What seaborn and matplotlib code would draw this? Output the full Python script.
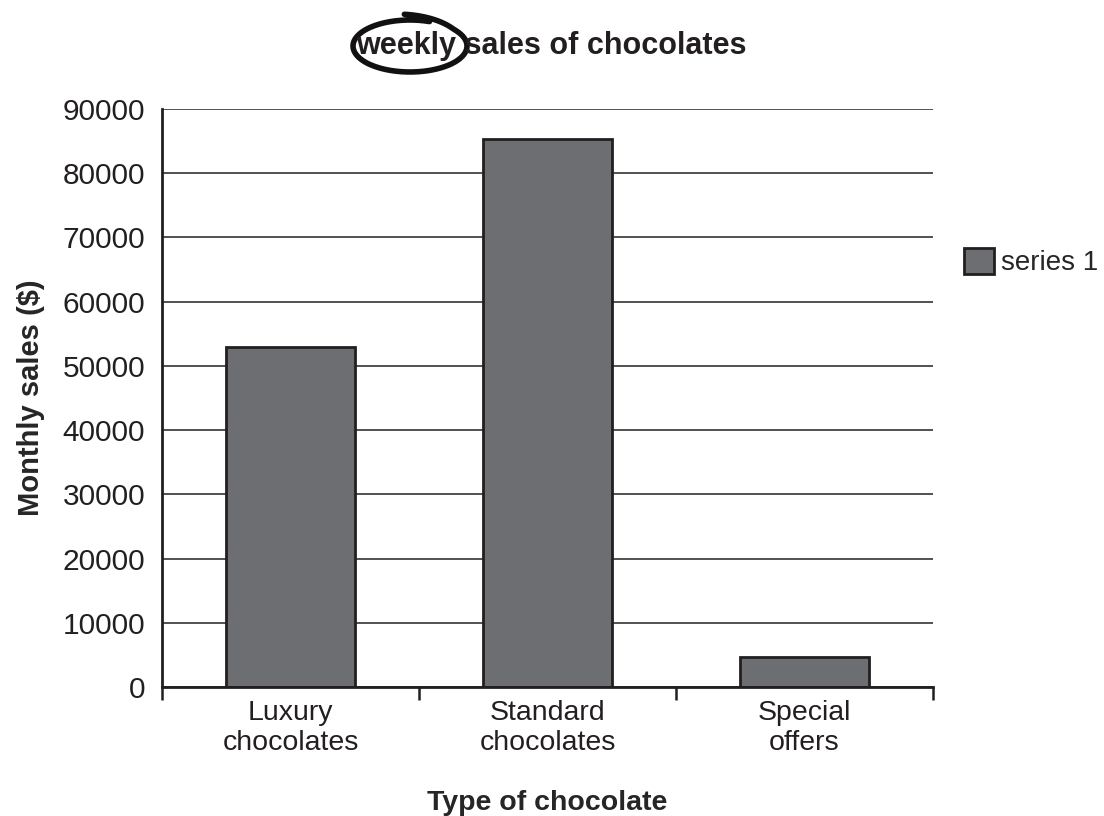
import seaborn as sns
import matplotlib.pyplot as plt
import pandas as pd
import numpy as np
from matplotlib.patches import Patch
from matplotlib.lines import Line2D

# データ
categories = ['Luxury\nchocolates', 'Standard\nchocolates', 'Special\noffers']
sales = [53000, 85400, 4700]
series_name = 'series 1'
y_ticks = [0, 10000, 20000, 30000, 40000, 50000, 60000, 70000, 80000, 90000]

df = pd.DataFrame({'type': categories, 'sales': sales})

sns.set_style('white')
plt.rcParams['font.family'] = ['Liberation Sans', 'DejaVu Sans']

bar_color = '#6d6e71'
edge_color = '#231f20'

fig = plt.figure(figsize=(11.04, 8.16), dpi=100)
ax = fig.add_axes([162 / 1104, 1 - 687 / 816, (933 - 162) / 1104, (687 - 109) / 816])

sns.barplot(data=df, x='type', y='sales', color=bar_color, width=0.5,
            edgecolor=edge_color, linewidth=2, saturation=1, ax=ax)

# 軸の設定
ax.set_xlim(-0.5, 2.5)
ax.set_ylim(0, 90000)
ax.set_yticks(y_ticks)
ax.set_yticklabels([str(v) for v in y_ticks], fontsize=21.5, color='#231f20')
ax.yaxis.grid(True, color='#333333', linewidth=1.2)
ax.set_axisbelow(True)
ax.tick_params(axis='y', length=0, pad=12)

# x軸: 目盛りは境界、ラベルは中央
ax.set_xticks([-0.5, 0.5, 1.5, 2.5])
ax.set_xticklabels([])
ax.tick_params(axis='x', which='major', direction='out', length=9, width=1.8,
               color='#231f20', bottom=True)
ax.set_xticks([0, 1, 2], minor=True)
ax.set_xticklabels(categories, minor=True, fontsize=20.5, color='#231f20', linespacing=1.25)
ax.tick_params(axis='x', which='minor', length=0, pad=9)

for s in ['top', 'right']:
    ax.spines[s].set_visible(False)
for s in ['left', 'bottom']:
    ax.spines[s].set_color('#231f20')
    ax.spines[s].set_linewidth(2)

ax.set_xlabel('Type of chocolate', fontsize=20.5, fontweight='bold', labelpad=24)
ax.set_ylabel('Monthly sales ($)', fontsize=21, fontweight='bold', labelpad=13)

# 凡例
handle = Patch(facecolor=bar_color, edgecolor=edge_color, linewidth=2)
fig.legend([handle], [series_name], loc='center left',
           bbox_to_anchor=(950 / 1104, 1 - 262 / 816), frameon=False,
           fontsize=20, handlelength=1.1, handleheight=1.1, handletextpad=0.25,
           borderpad=0)

# タイトルと手書きの丸
fig.text(551 / 1104, 1 - 46 / 816, 'weekly sales of chocolates', fontsize=22,
         fontweight='bold', ha='center', va='center', color='#231f20')
t = np.linspace(np.radians(70), np.radians(70 + 385), 200)
grow = np.where(t > np.radians(400), (t - np.radians(400)) / np.radians(55) * 0.14, 0)
cx, cy, rx, ry = 410, 46, 57, 26
px = cx + rx * (1 + grow) * np.cos(t)
py = cy - ry * (1 + grow * 1.6) * np.sin(t)
fig.add_artist(Line2D(px / 1104, 1 - py / 816, color='#111111', linewidth=4,
                      solid_capstyle='round', transform=fig.transFigure))

fig.savefig('out.png', dpi=100)
